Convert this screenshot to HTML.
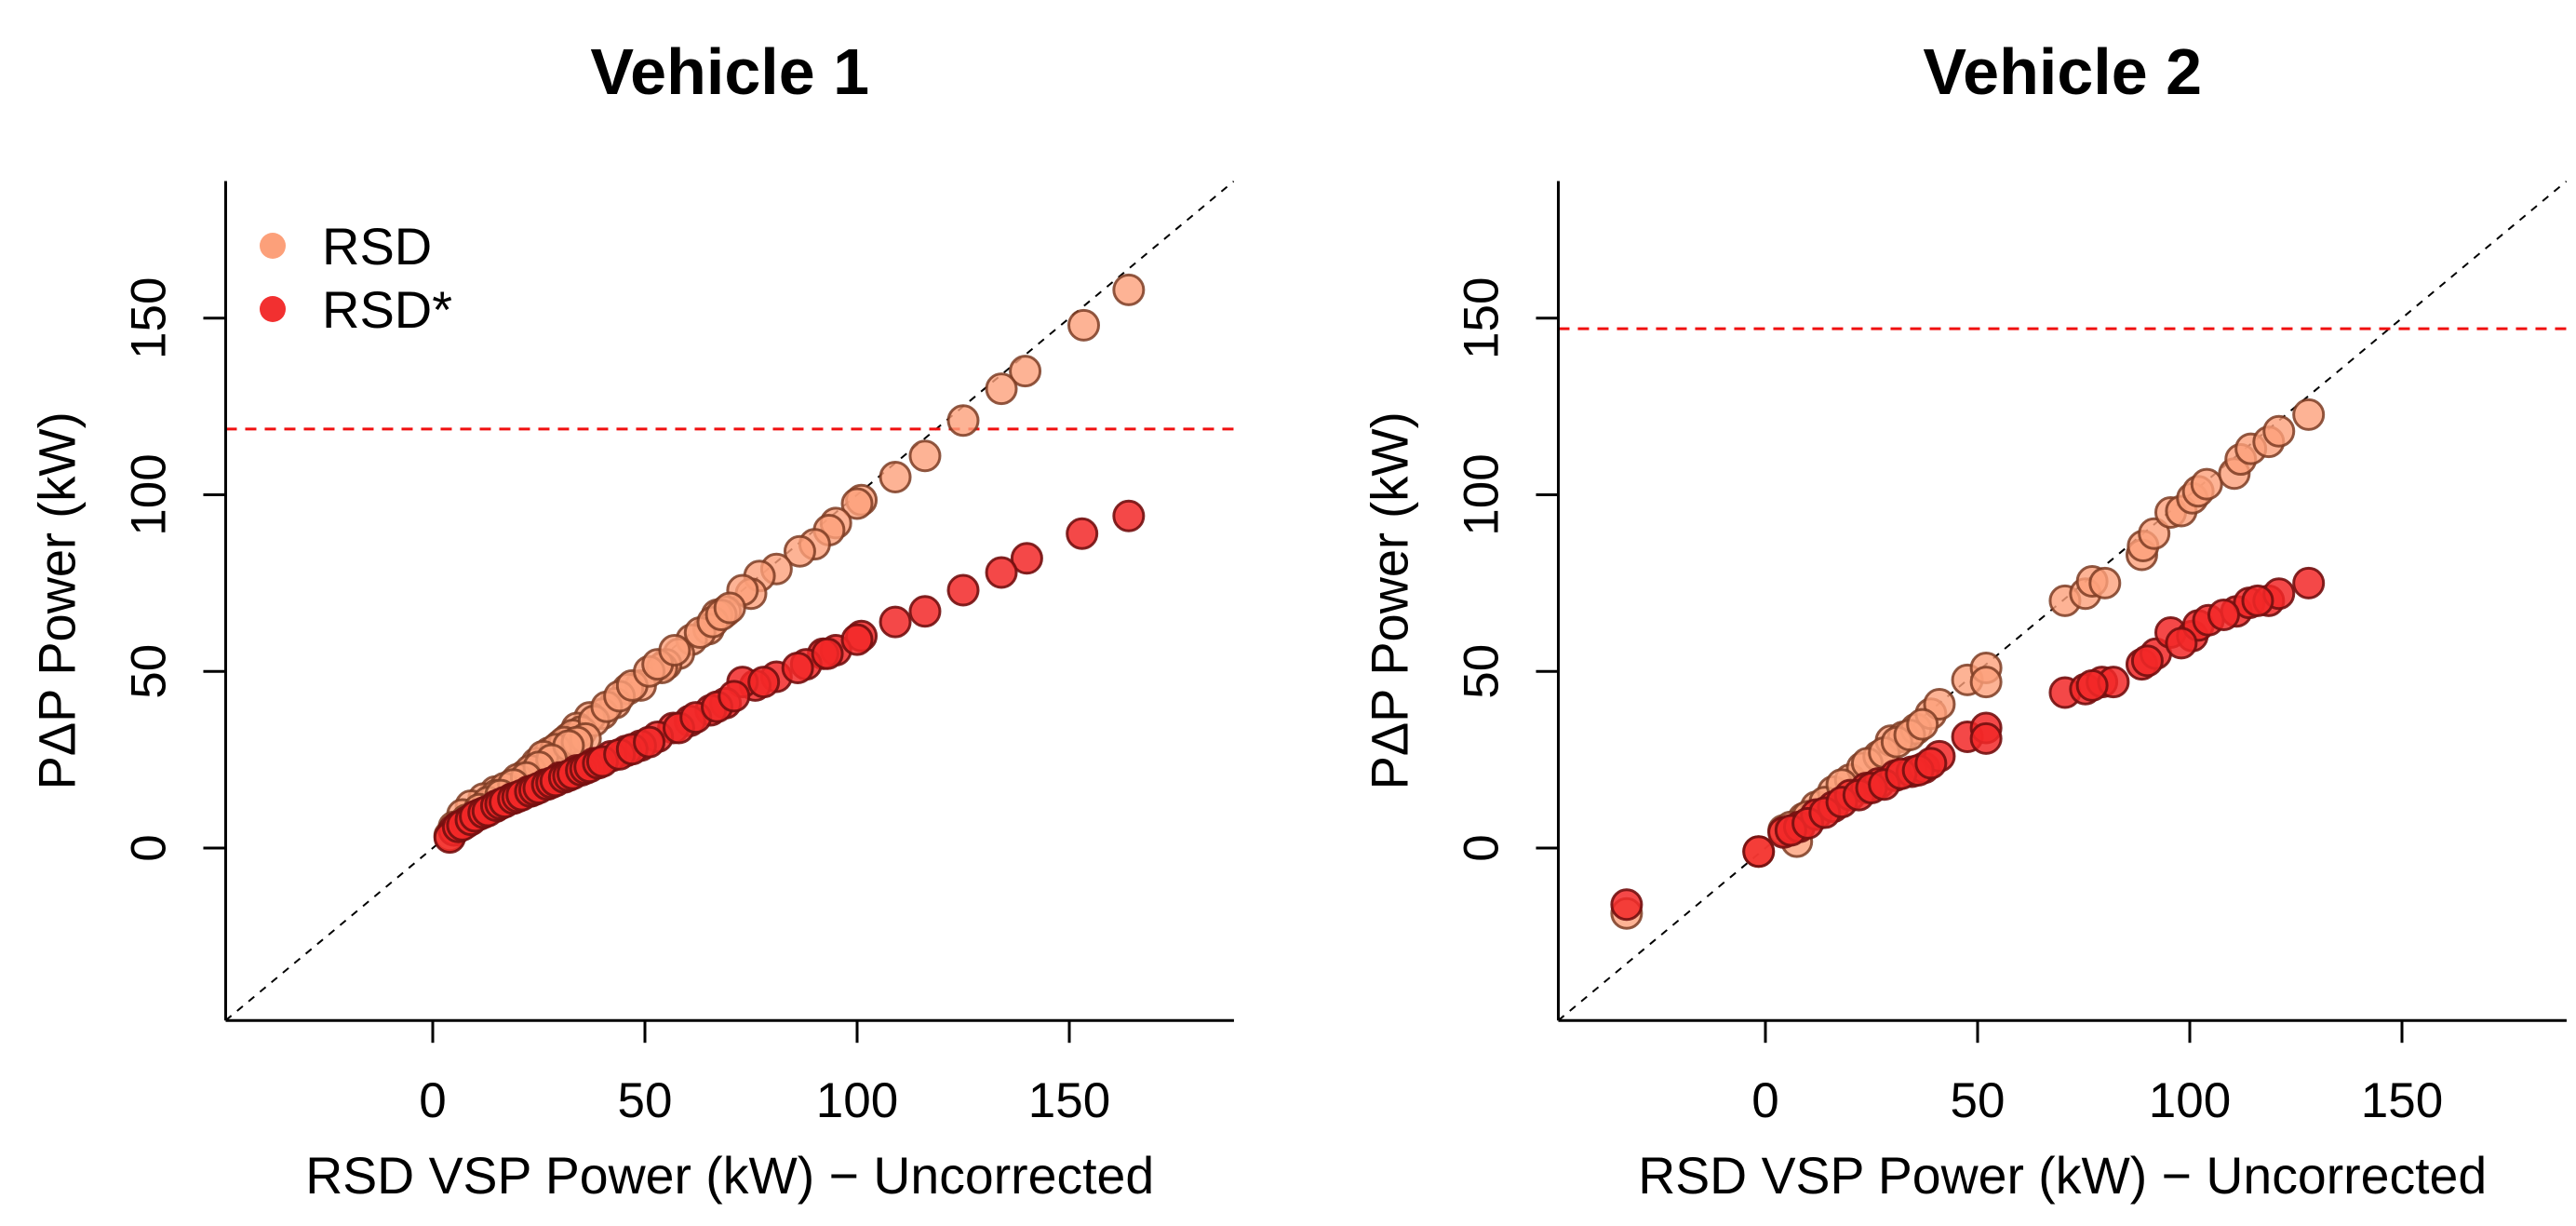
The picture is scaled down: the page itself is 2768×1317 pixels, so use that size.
<!DOCTYPE html>
<html><head><meta charset="utf-8"><style>
html,body{margin:0;padding:0;background:#fff}
svg{display:block;font-family:"Liberation Sans",Arial,sans-serif}
</style></head><body>
<svg id="chart" width="2768" height="1317" viewBox="0 0 2768 1317" xmlns="http://www.w3.org/2000/svg"></svg>
<script>
const ticks = [0, 50, 100, 150];
const tickLabels = ["0", "50", "100", "150"];
const panelTitles = ["Vehicle 1", "Vehicle 2"];
const thresholds = [118.6, 147];
const v1RsdX = [164,153.4,139.6,134,125,116,109,101,100,95,93.4,90,86.5,81,77,75,73,69,67,65,61,58,55,54,49,46,43,40,37,34,32,30,27.5,24.5,21.6,18.7,14.8,12,9,7,5,4,35,33,31,29,26,23,20,17,15,13,11,8,6,38,41,44,47,51,53,57,63,66,68,70,36,34,32,28,25,22,19,16];
const v1RsdY = [158,148,135,130,121,111,105,98.5,97.5,92,90,86,84,79,77,72,73,67,66,62,59,55,52,51,46,45,41,38,37,34,31,29,27,24,20.5,18,16,14,12,9.5,6,3.5,33,32,30,28,26,22,19.5,17,15,13,11,8,6,36,40,43,46,50,52,56,61,64,66,68,31,30,29,25,23,20,18,15];
const v1StarX = [164,153,140,134,125,116,109,101,95,92,88,81,76,73,69,65.5,60.6,56.7,53,49,45.6,42,38,34,30,26.5,22.6,18.7,14.8,11,8,5,4,6,7,9,10,12,13,15,16,17,19,20,21,23,24,25,27,28,29,31,32,33,35,36,37,39,40,44,47,51,58,62,67,71,78,86,93,100];
const v1StarY = [94,89,82,78,73,67,64,60,56,55,52,48.5,46,47,41,39,36,34,31.5,29,27.5,26,24,22,20,18,16,14,11.7,9.5,7.3,5,3,6,6.5,8,9,10,10.5,12,12.5,13,14,14.5,15,16,16.5,17,18,18.5,19,20,20.5,21,22,22.5,23,24,24.5,26.5,28,30,34,37,40,43,47,51,55,59];
const v2RsdX = [-32.7,-1.6,7.4,4.3,9,12,16,20,22.8,26.7,29.6,32.5,35.5,39,41,47.6,52,52,70.6,75.4,77,80,88.7,89,91.6,95.5,98,100.6,102,104,110.5,112,114.4,118.6,121,128,6,10,14,18,24,28,31,34,37];
const v2RsdY = [-18.5,-1,1.8,5,8.4,11.7,16,19.4,22.7,26,30.4,31.5,33.7,38,40.7,47.6,51,47,70,72,75.5,75,83,85.5,89,95,95.4,99,101,103,106,110,113,115,118,122.7,6,9,13,18,24,27,30,32,35];
const v2StarX = [-32.7,-1.6,4.3,8,12,16,20,23.8,26.7,30.6,34.5,37.4,41,47.6,52,52,70.6,75.4,79.3,82,88.7,92,95.5,100.6,102,104.4,111,114,118.6,121,128,6,10,14,18,22,25,28,32,36,39,77,90,98,108,116];
const v2StarY = [-16,-1,4.4,6,9.5,11.7,15,17,18.3,20.5,21.6,22.7,26,31.5,34,31,44,45,47,47,52,55,61,60,63,64.5,67,69.4,70,72,75,5,7,10,13,15,17,18,21,22,24,46,53,58,66,70];

const NS = "http://www.w3.org/2000/svg";
const svg = document.getElementById('chart');
function mk(tag, attrs, parent) {
  const e = document.createElementNS(NS, tag);
  for (const k in attrs) e.setAttribute(k, attrs[k]);
  (parent || svg).appendChild(e);
  return e;
}
const PX = 4.56, PY = 3.795;
const panels = [
  {ox: 465, data: [[v1RsdX, v1RsdY], [v1StarX, v1StarY]]},
  {ox: 1897, data: [[v2RsdX, v2RsdY], [v2StarX, v2StarY]]}
];
const Y0 = 911;
const styles = [
  {fill: "rgba(252,160,122,0.8)", stroke: "rgba(125,60,35,0.85)"},
  {fill: "rgba(242,40,40,0.85)", stroke: "rgba(115,15,15,0.9)"}
];
panels.forEach((p, i) => {
  const sx = v => p.ox + v * PX;
  const sy = v => Y0 - v * PY;
  const xmin = -48.8, xmax = 188.8;
  const L = sx(xmin), R = sx(xmax), T = sy(xmax), B = sy(xmin);
  const g = mk('g', {});
  
  
  const clipId = 'clip' + i;
  const cp = mk('clipPath', {id: clipId}, g);
  mk('rect', {x: L, y: T, width: R - L, height: B - T}, cp);
  const title = mk('text', {x: (L + R) / 2, y: 101, 'text-anchor': 'middle', 'font-size': 70, 'font-weight': 'bold'}, g);
  title.textContent = panelTitles[i];
  
  
  const diag = mk('line', {x1: sx(xmin), y1: sy(xmin), x2: sx(xmax), y2: sy(xmax), stroke: '#000', 'stroke-width': 2, 'stroke-dasharray': '8 8', 'clip-path': 'url(#' + clipId + ')'}, g);
  
  
  const th = mk('line', {x1: L, y1: sy(thresholds[i]), x2: R, y2: sy(thresholds[i]), stroke: '#f01010', 'stroke-width': 3, 'stroke-dasharray': '12 9'}, g);
  
  
  p.data.forEach((s, si) => {
    const sg = mk('g', {'clip-path': 'url(#' + clipId + ')'}, g);
    
    
    s[0].forEach((xv, k) => {
      const c = mk('circle', {cx: sx(xv), cy: sy(s[1][k]), r: 16, fill: styles[si].fill, stroke: styles[si].stroke, 'stroke-width': 3}, sg);
      
      
    });
  });
  const ax = mk('line', {x1: L, y1: B, x2: R, y2: B, stroke: '#000', 'stroke-width': 3}, g);
  
  
  const ay = mk('line', {x1: L, y1: T, x2: L, y2: B, stroke: '#000', 'stroke-width': 3}, g);
  
  
  ticks.forEach((t, k) => {
    mk('line', {x1: sx(t), y1: B, x2: sx(t), y2: B + 24, stroke: '#000', 'stroke-width': 3}, g);
    const xl = mk('text', {x: sx(t), y: 1200, 'text-anchor': 'middle', 'font-size': 53}, g);
    xl.textContent = tickLabels[k];
    
    
    mk('line', {x1: L, y1: sy(t), x2: L - 24, y2: sy(t), stroke: '#000', 'stroke-width': 3}, g);
    const yx = L - 65;
    const yl = mk('text', {x: yx, y: sy(t), 'text-anchor': 'middle', 'font-size': 53, transform: 'rotate(-90 ' + yx + ' ' + sy(t) + ')'}, g);
    yl.textContent = tickLabels[k];
    
    
  });
  const xt = mk('text', {x: (L + R) / 2, y: 1282, 'text-anchor': 'middle', 'font-size': 56, textLength: 912, lengthAdjust: 'spacingAndGlyphs'}, g);
  xt.textContent = 'RSD VSP Power (kW) \u2212 Uncorrected';
  
  
  const yxp = L - 162, ycy = (T + B) / 2;
  const yt = mk('text', {x: yxp, y: ycy, 'text-anchor': 'middle', 'font-size': 56, textLength: 406, lengthAdjust: 'spacingAndGlyphs', transform: 'rotate(-90 ' + yxp + ' ' + ycy + ')'}, g);
  yt.textContent = 'P\u0394P Power (kW)';
  
  
});
const lg = mk('g', {});


[["RSD", "#fca07a", 264], ["RSD*", "#f23030", 332]].forEach(([lab, col, y]) => {
  const c = mk('circle', {cx: 293, cy: y, r: 14, fill: col}, lg);
  
  
  const t = mk('text', {x: 346, y: y + 20, 'font-size': 56}, lg);
  t.textContent = lab;
  
  
});
</script>
</body></html>
